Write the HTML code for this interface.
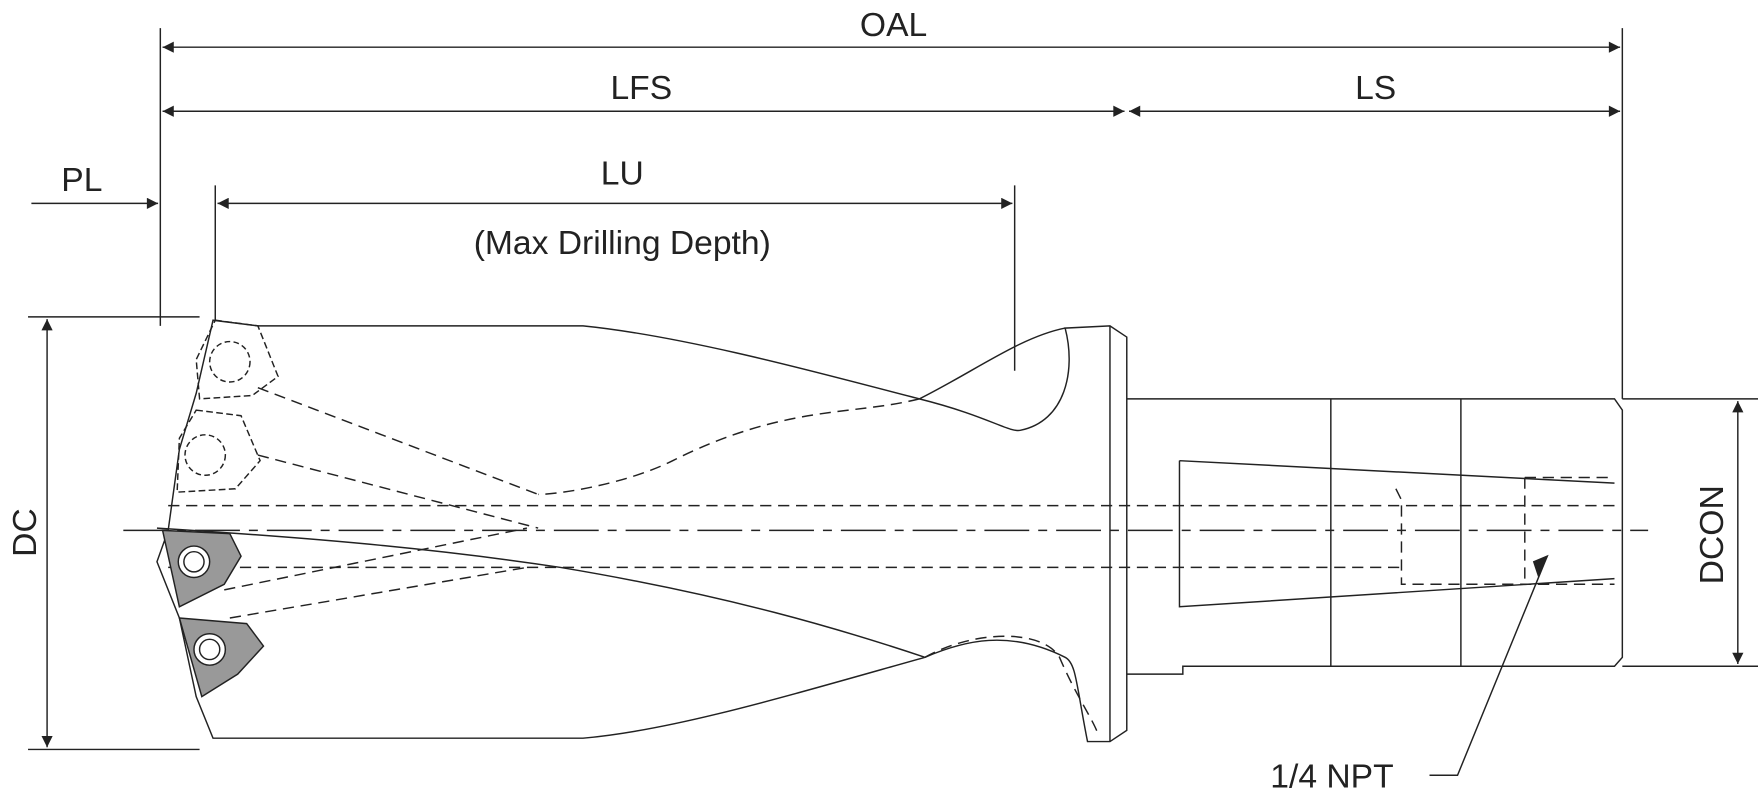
<!DOCTYPE html>
<html><head><meta charset="utf-8"><style>
html,body{margin:0;padding:0;background:#fff;}
svg{display:block;}
text{font-family:"Liberation Sans",sans-serif;fill:#222;font-size:30px;}
</style></head><body>
<svg width="1758" height="800" viewBox="0 0 1568 712" preserveAspectRatio="none" xmlns="http://www.w3.org/2000/svg">
<defs>
<marker id="a" viewBox="0 0 10 10" refX="10" refY="5" markerWidth="18" markerHeight="10" markerUnits="userSpaceOnUse" orient="auto-start-reverse"><path d="M0,0 L10,5 L0,10 z" fill="#222"/></marker>
</defs>
<g stroke="#222" stroke-width="1.3" fill="none">
<line x1="143" y1="25" x2="143" y2="290"/>
<line x1="1447" y1="25" x2="1447" y2="355"/>
<line x1="192" y1="165" x2="192" y2="285"/>
<line x1="905" y1="165" x2="905" y2="330"/>
<line x1="25" y1="282" x2="178" y2="282"/>
<line x1="25" y1="667" x2="178" y2="667"/>
<line x1="1447" y1="355" x2="1568" y2="355"/>
<line x1="1447" y1="593" x2="1568" y2="593"/>
<line x1="145" y1="42" x2="1445" y2="42" marker-start="url(#a)" marker-end="url(#a)"/>
<line x1="145" y1="99" x2="1003" y2="99" marker-start="url(#a)" marker-end="url(#a)"/>
<line x1="1007" y1="99" x2="1445" y2="99" marker-start="url(#a)" marker-end="url(#a)"/>
<line x1="28" y1="181" x2="141" y2="181" marker-end="url(#a)"/>
<line x1="194" y1="181" x2="903" y2="181" marker-start="url(#a)" marker-end="url(#a)"/>
<line x1="42" y1="284" x2="42" y2="665" marker-start="url(#a)" marker-end="url(#a)"/>
<line x1="1550" y1="357" x2="1550" y2="591" marker-start="url(#a)" marker-end="url(#a)"/>
<line x1="110" y1="472" x2="1470" y2="472" stroke-dasharray="40,8,8,8"/>
<path d="M230,290 L520,290 C620,300 760,340 820,355 C880,370 900,385 910,383 C950,375 960,330 950,292 L990,290 L1005,300 L1005,650 L990,660 L970,660 C960,610 960,590 950,585 C900,560 860,570 825,585 C700,620 600,650 520,657 L190,657 L175,620 L160,550 L140,500 L150,472 L160,400 L175,350 L190,285 L230,290"/>
<path d="M820,355 C870,330 910,300 950,292"/>
<line x1="990" y1="290" x2="990" y2="660"/>
<path d="M820,355 C760,370 700,360 600,410 C560,430 500,440 480,440" stroke-dasharray="10,6"/>
<path d="M140,470 C300,480 400,490 500,505 C650,530 750,560 825,585"/>
<path d="M825,585 C870,560 930,560 945,585 C960,620 975,640 980,655" stroke-dasharray="10,6"/>
<g stroke-dasharray="10,6">
<line x1="150" y1="450" x2="1440" y2="450" />
<line x1="150" y1="505" x2="1250" y2="505"/>
<line x1="230" y1="345" x2="480" y2="440"/>
<line x1="230" y1="405" x2="480" y2="470"/>
<line x1="200" y1="525" x2="470" y2="470"/>
<line x1="205" y1="550" x2="470" y2="505"/>
<path d="M1245,435 L1250,445 L1250,520 L1440,520"/>
<path d="M1360,425 L1440,425 M1360,425 L1360,520"/>
</g>
<path d="M1005,355 L1440,355 L1447,365 L1447,585 L1440,593 L1055,593 L1055,600 L1005,600"/>
<line x1="1187" y1="355" x2="1187" y2="593"/>
<line x1="1303" y1="355" x2="1303" y2="593"/>
<path d="M1052,410 L1440,430 M1052,410 L1052,540 L1440,515"/>
<path d="M192,285 L230,290 L248,335 L225,352 L178,355 L175,320 Z" stroke-dasharray="6,3"/>
<circle cx="205" cy="322" r="18" stroke-dasharray="5,3"/>
<path d="M175,365 L215,370 L232,410 L210,435 L158,438 L160,390 Z" stroke-dasharray="6,3"/>
<circle cx="183" cy="405" r="18" stroke-dasharray="5,3"/>
<path d="M1275,690 L1300,690 L1380,495" />
</g>
<g stroke="#222" stroke-width="1.3">
<path d="M145,472 L205,475 L215,495 L200,520 L160,540 Z" fill="#999"/>
<circle cx="173" cy="500" r="14" fill="#fff"/><circle cx="173" cy="500" r="9" fill="#fff"/>
<path d="M160,550 L220,555 L235,575 L212,600 L180,620 Z" fill="#999"/>
<circle cx="187" cy="578" r="14" fill="#fff"/><circle cx="187" cy="578" r="9" fill="#fff"/>
<path d="M1380,495 L1372,512 L1368,500 Z" fill="#222"/>
</g>
<text x="797" y="32" text-anchor="middle">OAL</text>
<text x="572" y="88" text-anchor="middle">LFS</text>
<text x="1227" y="88" text-anchor="middle">LS</text>
<text x="73" y="170" text-anchor="middle">PL</text>
<text x="555" y="164" text-anchor="middle">LU</text>
<text x="555" y="226" text-anchor="middle">(Max Drilling Depth)</text>
<text transform="translate(32,474) rotate(-90)" text-anchor="middle">DC</text>
<text transform="translate(1537,476) rotate(-90)" text-anchor="middle">DCON</text>
<text x="1188" y="701" text-anchor="middle">1/4 NPT</text>
</svg>
</body></html>
